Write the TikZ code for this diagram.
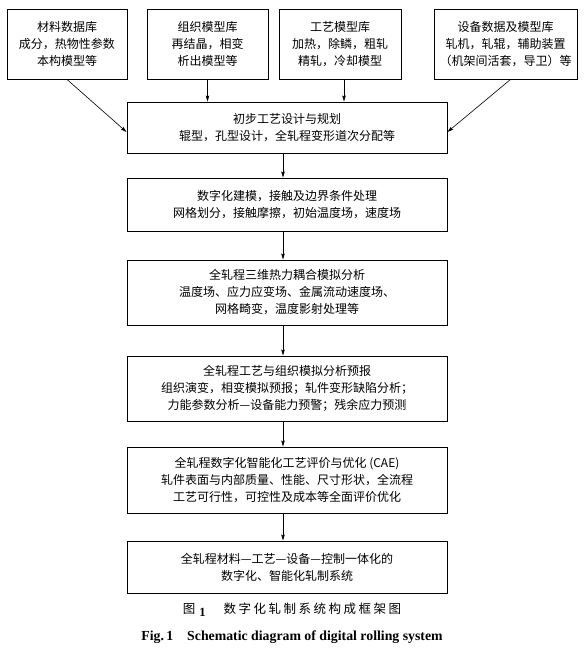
\documentclass[tikz,border=0pt]{standalone}
\usepackage{fontspec}
\newfontfamily\cjk{Noto Sans CJK SC}
\newfontfamily\cjkspaced[LetterSpace=20]{Noto Sans CJK SC}
\newfontfamily\capserif{Liberation Serif}
\usetikzlibrary{arrows.meta}

\begin{document}
\begin{tikzpicture}[x=1pt, y=-1pt,
  libbox/.style={draw, line width=0.9pt, align=center, inner sep=0pt,
    font=\cjk\fontsize{12}{17}\selectfont},
  stepbox/.style={libbox, minimum width=320pt},
  flowarrow/.style={line width=0.6pt, -{Stealth[length=6pt, width=3.5pt, inset=1pt]}}]
% page frame
\useasboundingbox (0,0) rectangle (587,651);
\def\stepx{287}
% Model libraries (top row)
\node[libbox, minimum width=120pt, minimum height=70pt] (matLib) at (67,44)
  {材料数据库\\成分，热物性参数\\本构模型等};
\node[libbox, minimum width=121pt, minimum height=70pt] (strLib) at (207.5,44)
  {组织模型库\\再结晶，相变\\析出模型等};
\node[libbox, minimum width=122pt, minimum height=70pt] (procLib) at (340,44)
  {工艺模型库\\加热，除鳞，粗轧\\精轧，冷却模型};
\node[libbox, minimum width=143pt, minimum height=70pt] (equipLib) at (505.5,44)
  {设备数据及模型库\\轧机，轧辊，辅助装置\\（机架间活套，导卫）等};
% Process chain
\node[stepbox, minimum height=51pt] (stepPlan) at (\stepx,127.5)
  {初步工艺设计与规划\\辊型，孔型设计，全轧程变形道次分配等};
\node[stepbox, minimum height=53pt] (stepModel) at (\stepx,204.5)
  {数字化建模，接触及边界条件处理\\网格划分，接触摩擦，初始温度场，速度场};
\node[stepbox, minimum height=65pt] (stepThermo) at (\stepx,292.5)
  {全轧程三维热力耦合模拟分析\\温度场、应力应变场、金属流动速度场、\\网格畸变，温度影射处理等};
\node[stepbox, minimum height=65pt] (stepMicro) at (\stepx,388.5)
  {全轧程工艺与组织模拟分析预报\\组织演变，相变模拟预报；轧件变形缺陷分析；\\力能参数分析—设备能力预警；残余应力预测};
\node[stepbox, minimum height=66pt] (stepEval) at (\stepx,480)
  {全轧程数字化智能化工艺评价与优化 (CAE)\\轧件表面与内部质量、性能、尺寸形状，全流程\\工艺可行性，可控性及成本等全面评价优化};
\node[stepbox, minimum height=52pt] (stepSystem) at (\stepx,567)
  {全轧程材料—工艺—设备—控制一体化的\\数字化、智能化轧制系统};
% Captions
\node[inner sep=0pt, font=\fontsize{12.5}{14}\selectfont] (capCn) at (292,610)
  {{\cjk 图}\hspace{4pt}\raisebox{-3pt}{\capserif\bfseries 1}\hspace{18pt}{\cjkspaced 数字化轧制系统构成框架图}};
\node[inner sep=0pt, font=\capserif\bfseries\fontsize{13.8}{16}\selectfont] (capEn) at (292,637)
  {Fig.\,1\hspace{14pt}Schematic diagram of digital rolling system};
% Connectors
\coordinate (procOut) at ([xshift=4pt]procLib.south);
\begin{scope}[flowarrow]
  \draw (matLib.south) -- ([yshift=-4.5pt]stepPlan.west);
  \draw (strLib.south) -- (stepPlan.north -| strLib.south);
  \draw (procOut) -- (stepPlan.north -| procOut);
  \draw ([xshift=5pt]equipLib.south) -- ([yshift=-4.5pt]stepPlan.east);
  \draw ([xshift=-4pt]stepPlan.south) -- ([xshift=-4pt]stepModel.north);
  \draw ([xshift=-4pt]stepModel.south) -- ([xshift=-4pt]stepThermo.north);
  \draw ([xshift=-4pt]stepThermo.south) -- ([xshift=-4pt]stepMicro.north);
  \draw ([xshift=-4pt]stepMicro.south) -- ([xshift=-4pt]stepEval.north);
  \draw ([xshift=-4pt]stepEval.south) -- ([xshift=-4pt]stepSystem.north);
\end{scope}
\end{tikzpicture}
\end{document}
